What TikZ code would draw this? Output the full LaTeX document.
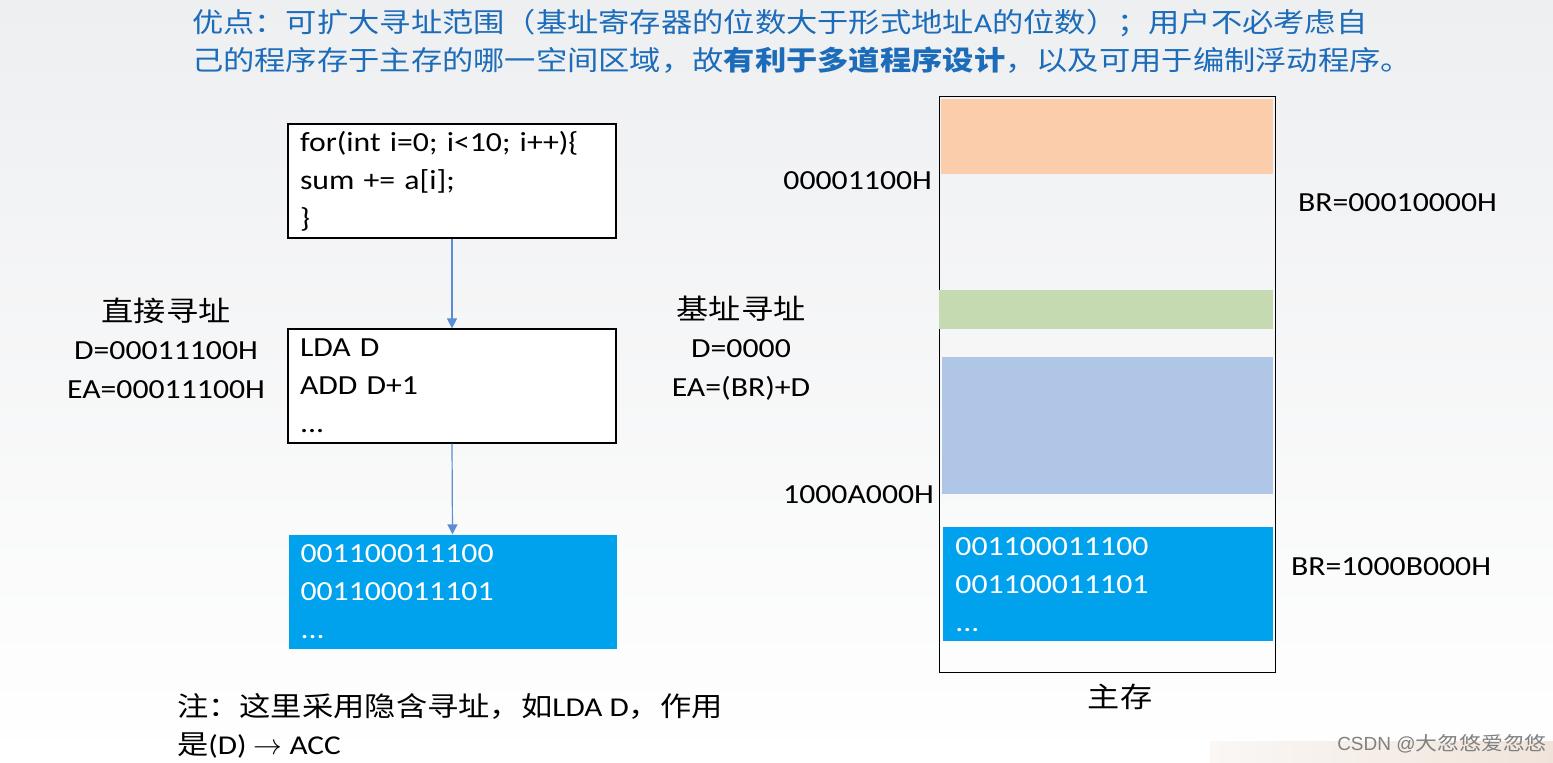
\documentclass[tikz,border=0pt]{standalone}
\usepackage{fontspec}
\usetikzlibrary{arrows.meta}
\setmainfont{Carlito}[FakeStretch=1.15]
\newfontfamily\cjk{Noto Sans CJK SC}[FakeStretch=1.15]
\newfontfamily\wmfont{Liberation Sans}
\newcommand{\zh}[1]{{\cjk #1}}
\definecolor{topblue}{RGB}{28,108,186}
\definecolor{arrblue}{RGB}{91,141,213}
\definecolor{cellblue}{RGB}{0,162,237}
\definecolor{orangecell}{RGB}{251,205,170}
\definecolor{greencell}{RGB}{197,218,177}
\definecolor{lightcell}{RGB}{176,198,231}
\tikzset{
  codebox/.style  = {shape=rectangle, draw, line width=0.6pt, fill=white,
                     minimum width=164pt, minimum height=57pt,
                     text width=152pt, inner xsep=6pt, align=left,
                     font=\fontsize{13.8}{19}\selectfont},
  bitbox/.style   = {codebox, draw=none, fill=cellblue, text=white},
  strip/.style    = {shape=rectangle, inner sep=0pt, anchor=north west},
  label/.style    = {align=center, font=\fontsize{13.8}{19.2}\selectfont},
  addr/.style     = {font=\fontsize{13.8}{19}\selectfont},
  arr/.style      = {draw=arrblue, line width=0.6pt,
                     -{Triangle[width=5pt,length=5pt]}}
}

\begin{document}
\begin{tikzpicture}[x=0.5pt, y=-0.5pt]
  % background
  \shade[top color={rgb,255:red,238;green,239;blue,241}, bottom color=white]
    (0,0) rectangle (1553,763);
  \useasboundingbox (0,0) rectangle (1553,763);

  % heading
  \node (head) [anchor=west, align=left, text=topblue,
                font=\cjk\fontsize{13.6}{19}\selectfont] at (185,41)
    {优点：可扩大寻址范围（基址寄存器的位数大于形式地址{\rmfamily A}的位数）；用户不必考虑自\\
     己的程序存于主存的哪一空间区域，故{\bfseries 有利于多道程序设计}，以及可用于编制浮动程序。};

  % program -> instructions -> machine code
  \node (src) [codebox] at (452,181)
    {for(int i=0; i<10; i++)\{\\ sum += a[i];\\ \}};
  \node (asm) [codebox] at (452,386)
    {LDA D\\ ADD D+1\\ ...};
  \node (bin) [bitbox] at (452.5,592)
    {001100011100\\ 001100011101\\ ...};
  \draw[arr] (src.south) -- (asm.north);
  \draw[arr] (asm.south) -- (bin.north);

  % addressing labels
  \node (direct) [label] at (166,348)
    {\zh{\fontsize{14}{19}\selectfont 直接寻址}\\ D=00011100H\\ EA=00011100H};
  \node (based) [label] at (741,348)
    {\zh{\fontsize{14}{19}\selectfont 基址寻址}\\ D=0000\\ EA=(BR)+D};

  % main memory
  \node (mem) [strip, draw, line width=0.6pt, minimum width=168pt,
               minimum height=288pt] at (939,96) {};
  \node (seg1) [strip, fill=orangecell, minimum width=166pt,
                minimum height=37.5pt] at (941,99) {};
  \node (seg2) [strip, fill=greencell, minimum width=167pt,
                minimum height=19.5pt] at (939,290) {};
  \node (seg3) [strip, fill=lightcell, minimum width=165.5pt,
                minimum height=68.5pt] at (942,357) {};
  \node (seg4) [strip, fill=cellblue, text=white, minimum width=165pt,
                minimum height=57pt, text width=153pt, inner xsep=6pt,
                align=left, font=\fontsize{13.8}{19}\selectfont] at (943,527)
    {001100011100\\ 001100011101\\ ...};
  \node (memname) [font=\cjk\fontsize{14}{19}\selectfont] at (1120,697) {主存};

  \node (a1) [addr, anchor=east] at (939,181) {00001100H};
  \node (a2) [addr, anchor=east] at (941,495) {1000A000H};
  \node (br1) [addr, anchor=west] at (1291,203) {BR=00010000H};
  \node (br2) [addr, anchor=west] at (1284,567) {BR=1000B000H};

  % note
  \node (note) [anchor=north west, align=left,
                font=\fontsize{13.6}{19}\selectfont] at (170,686)
    {\zh{注：这里采用隐含寻址，如}LDA D\zh{，作用}\\
     \zh{是}(D) $\rightarrow$ ACC};

  % watermark
  \shade[left color={rgb,255:red,250;green,247;blue,245},
         right color={rgb,255:red,240;green,228;blue,218}]
    (1210,742) rectangle (1553,763);
  \node (wm) [text=gray, font=\wmfont\fontsize{9.5}{12}\selectfont] at (1442,744)
    {CSDN @\zh{大忽悠爱忽悠}};
\end{tikzpicture}
\end{document}
